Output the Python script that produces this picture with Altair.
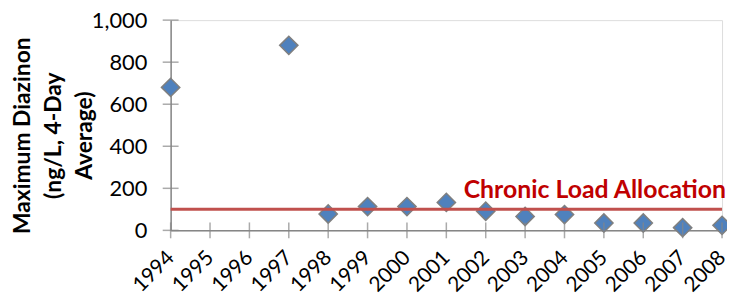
import altair as alt
import pandas as pd

years = [1994, 1997, 1998, 1999, 2000, 2001, 2002, 2003, 2004, 2005, 2006, 2007, 2008]
values = [680, 880, 78, 113, 113, 133, 91, 66, 75, 35, 35, 13, 24]
tick_years = list(range(1994, 2009))
y_ticks = [0, 200, 400, 600, 800, 1000]
allocation = 100
allocation_label = "Chronic Load Allocation"

df = pd.DataFrame({"year": years, "value": values})
xt = pd.DataFrame({"year": tick_years, "base": [0] * len(tick_years)})
yt = pd.DataFrame({"v": y_ticks, "year": [tick_years[0]] * len(y_ticks)})
alloc = pd.DataFrame({"x0": [tick_years[0]], "x1": [tick_years[-1]], "y": [allocation], "label": [allocation_label]})

FONT = "Lato"
AX = "#868686"

xscale = alt.Scale(type="point", domain=tick_years, padding=0)
yscale = alt.Scale(domain=[0, 1000], nice=False)

xaxis = alt.Axis(labelAngle=315, labelAlign="right",
                 labelBaseline="middle", labelFontSize=21, labelFont=FONT, labelColor="#000000",
                 labelPadding=24, ticks=False, grid=False, domainColor=AX, domainWidth=1.5,
                 title=None, labelOverlap=False, labelBound=False, labelFlush=False)
yaxis = alt.Axis(values=y_ticks, format=",d", labelFontSize=22, labelFont=FONT, labelColor="#000000",
                 labelPadding=24, ticks=False, grid=False, domainColor=AX, domainWidth=1.5,
                 labelOverlap=False, labelFlush=False,
                 title=["Maximum Diazinon", "(ng/L, 4-Day", "Average)"],
                 titleFont=FONT, titleFontSize=23, titleFontWeight="bold", titleColor="#000000",
                 titleAngle=270, titleX=-160, titleY=116, titleAlign="center", titleBaseline="top",
                 titleLineHeight=31)

X = lambda f: alt.X(f, scale=xscale, axis=xaxis)
Y = lambda f: alt.Y(f, scale=yscale, axis=yaxis)

points = alt.Chart(df).mark_point(shape="diamond", filled=True, size=340, fill="#4F81BD",
                                  stroke="#7F7F7F", strokeWidth=1.5, opacity=1).encode(
    x=X("year:O"), y=Y("value:Q"))

xticks = alt.Chart(xt).mark_tick(orient="vertical", size=16, color=AX, thickness=1.5).encode(
    x=X("year:O"), y=Y("base:Q"))
yticks = alt.Chart(yt).mark_tick(orient="horizontal", size=16, color=AX, thickness=1.5).encode(
    y=Y("v:Q"), x=X("year:O"))

line = alt.Chart(alloc).mark_rule(color="#C0504D", strokeWidth=3).encode(
    x=X("x0:O"), x2="x1:O", y=Y("y:Q"))

label = alt.Chart(alloc).mark_text(align="right", baseline="alphabetic", dx=4, dy=-11,
                                   font=FONT, fontSize=25, fontWeight="bold", color="#C00000").encode(
    x=X("x1:O"), y=Y("y:Q"), text="label:N")

chart = alt.layer(points, xticks, yticks, line, label).properties(
    width=556, height=212,
    autosize=alt.AutoSizeParams(type="none"),
    padding={"left": 164, "top": 11, "right": 5, "bottom": 70},
).configure_view(stroke=None).configure(background="#ffffff")

chart.save("out.html", embed_options={"renderer": "svg", "actions": False})
